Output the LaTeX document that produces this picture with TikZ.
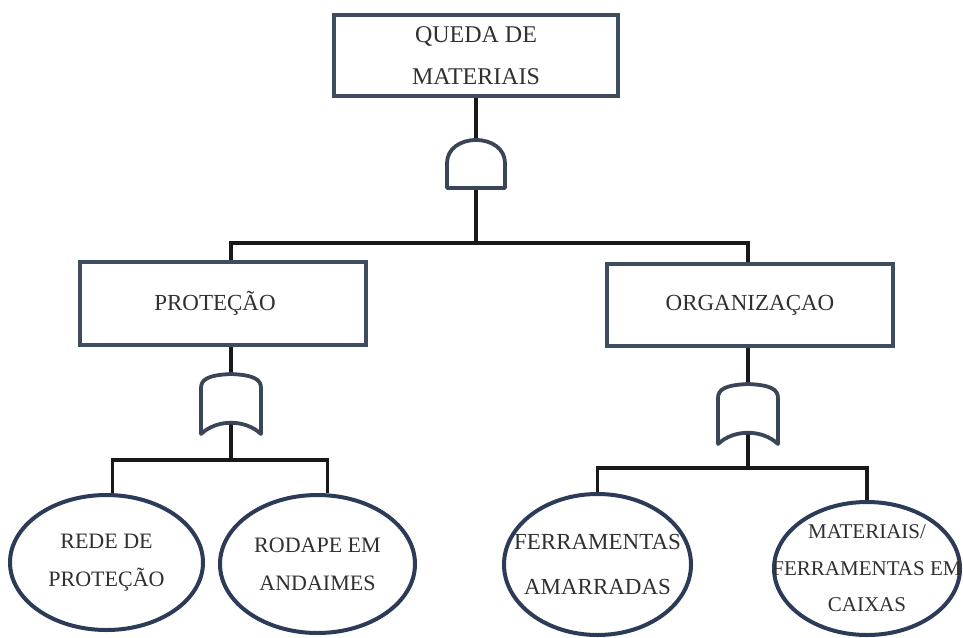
\documentclass[tikz,border=0pt]{standalone}
\usepackage{fontspec}
\setmainfont{Liberation Serif}
\usetikzlibrary{shapes.geometric,backgrounds}
\definecolor{boxline}{HTML}{3E4C60}
\definecolor{leafline}{HTML}{2C3B57}
\definecolor{gateline}{HTML}{3A4658}
\definecolor{ink}{HTML}{303030}
\begin{document}
\begin{tikzpicture}[x=1pt,y=-1pt,
  event/.style={draw=boxline, line width=4.4pt, fill=white, rectangle,
                inner sep=0pt, text=ink, align=center},
  leaf/.style={draw=leafline, line width=4pt, ellipse, inner sep=0pt, fill=white},
  leaftext/.style={text=ink, align=center, inner sep=0pt},
  wire/.style={line width=3.2pt, draw=black!90},
  gate/.style={draw=gateline, line width=3.8pt, fill=white, line join=round},
  andgate/.pic={
    \draw[gate] (-29,48) -- (-29,23) .. controls (-29,9) and (-16,0) .. (0,0)
                .. controls (16,0) and (29,9) .. (29,23) -- (29,48) -- cycle;
  },
  orgate/.pic={
    \draw[gate] (-30,60) -- (-30,14) .. controls (-30,5) and (-22,1) .. (0,0)
                .. controls (22,1) and (30,5) .. (30,14) -- (30,60)
                .. controls (14,45) and (-14,45) .. cycle;
  }]
\useasboundingbox (0,0) rectangle (963,637);

% top event and intermediate events
\node[event, minimum width=284pt, minimum height=81pt,
      font=\fontsize{24}{42}\selectfont] (top) at (476,55.5) {QUEDA DE\\MATERIAIS};
\node[event, minimum width=286pt, minimum height=83pt,
      font=\fontsize{23}{28}\selectfont] (lbox) at (223,303.5) {\hspace*{-16pt}PROTEÇÃO};
\node[event, minimum width=286pt, minimum height=82pt,
      font=\fontsize{23}{28}\selectfont] (rbox) at (750,305) {ORGANIZAÇAO};

% gates
\pic at (476,140) {andgate};
\coordinate (andtop) at (476,140);
\coordinate (andbot) at (476,188);
\pic at (231,374) {orgate};
\coordinate (or1top) at (231,374);
\coordinate (or1bot) at (231,423);
\pic at (748,384) {orgate};
\coordinate (or2top) at (748,384);
\coordinate (or2bot) at (748,433);

% basic events
\node[leaf, minimum width=193pt, minimum height=135pt,
      label={[leaftext, font=\fontsize{22}{38}\selectfont]center:{REDE DE\\PROTEÇÃO}}]
      (e1) at (106.5,562.5) {};
\node[leaf, minimum width=195pt, minimum height=138pt,
      label={[leaftext, font=\fontsize{22}{38}\selectfont]center:{RODAPE EM\\ANDAIMES}}]
      (e2) at (317.5,564) {};
\node[leaf, minimum width=187pt, minimum height=141pt,
      label={[leaftext, font=\fontsize{23}{45}\selectfont]center:{FERRAMENTAS\\AMARRADAS}}]
      (e3) at (597.5,564.5) {};
\node[leaf, minimum width=186pt, minimum height=133pt,
      label={[leaftext, font=\fontsize{21}{36.5}\selectfont]center:{MATERIAIS/\\FERRAMENTAS EM\\CAIXAS}}]
      (e4) at (867,568.5) {};

% junction points of the branch bars
\coordinate (j0) at (476,243);
\coordinate (j1) at (231,460);
\coordinate (j2) at (748,468);

\begin{scope}[on background layer]
  \draw[wire] (top.south) -- (andtop);
  \draw[wire] (andbot) -- (j0);
  \draw[wire] ([xshift=8pt]lbox.north) |- (j0) -| ([xshift=-2pt]rbox.north);
  \draw[wire] ([xshift=8pt]lbox.south) -- (or1top);
  \draw[wire] ([xshift=-2pt]rbox.south) -- (or2top);
  \draw[wire] (or1bot) -- (j1);
  \draw[wire] (e1.85) |- (j1) -| (e2.82);
  \draw[wire] (or2bot) -- (j2);
  \draw[wire] (e3.north) |- (j2) -| (e4.north);
\end{scope}
\end{tikzpicture}
\end{document}
